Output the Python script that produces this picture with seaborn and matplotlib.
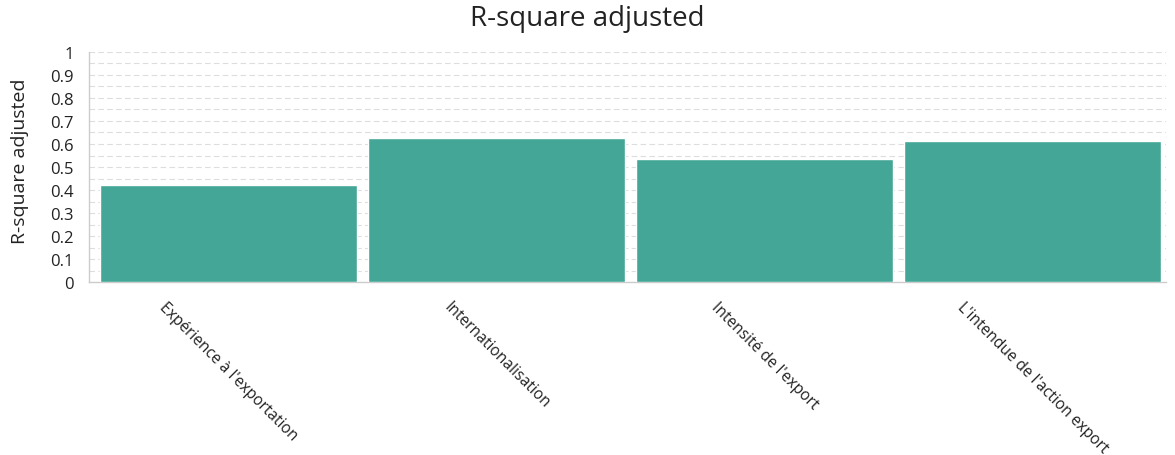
import matplotlib
matplotlib.use("Agg")
import pandas as pd
import seaborn as sns
import matplotlib.pyplot as plt
from matplotlib.ticker import MultipleLocator

# values
categories = ["Expérience à l'exportation", "Internationalisation",
              "Intensité de l'export", "L'intendue de l'action export"]
r2_adjusted = [0.421, 0.626, 0.536, 0.611]
y_ticks = [0, 0.1, 0.2, 0.3, 0.4, 0.5, 0.6, 0.7, 0.8, 0.9, 1]
y_tick_labels = ["0", "0.1", "0.2", "0.3", "0.4", "0.5", "0.6", "0.7", "0.8", "0.9", "1"]

df = pd.DataFrame({"Construct": categories, "R2": r2_adjusted})

sns.set_style("white")
plt.rcParams["font.family"] = ["Open Sans", "DejaVu Sans"]

fig = plt.figure(figsize=(11.75, 4.56), dpi=100)
ax = fig.add_axes([0.0757, 0.379, 0.917, 0.505])

sns.barplot(data=df, x="Construct", y="R2", color="#43a696", saturation=1,
            width=0.959, ax=ax, zorder=3)

ax.set_ylim(0, 1)
ax.set_xlim(-0.52, 3.5)
ax.set_yticks(y_ticks)
ax.set_yticklabels(y_tick_labels, fontsize=12, color="#222222")
ax.yaxis.set_minor_locator(MultipleLocator(0.05))
ax.grid(axis="y", which="both", linestyle=(0, (5, 3)), color="#dddddd", linewidth=0.8, zorder=0)
ax.set_axisbelow(True)

for lab in ax.get_xticklabels():
    lab.set_rotation(-45)
    lab.set_ha("center")
    lab.set_va("top")
    lab.set_fontsize(11.2)
    lab.set_color("#222222")

ax.tick_params(axis="x", which="major", length=5, color="#cccccc", pad=7)
ax.tick_params(axis="y", which="major", length=8, color="#cccccc", pad=3)
ax.tick_params(axis="y", which="minor", length=0)

for side in ["top", "right"]:
    ax.spines[side].set_visible(False)
for side in ["left", "bottom"]:
    ax.spines[side].set_color("#cccccc")
    ax.spines[side].set_linewidth(1)

ax.set_xlabel("")
ax.set_ylabel("R-square adjusted", fontsize=14, color="#222222")
ax.yaxis.set_label_coords(-0.056, 0.53)
fig.suptitle("R-square adjusted", fontsize=20, color="#222222", x=0.5, y=0.99)

fig.savefig("out.png", dpi=100, facecolor="white")
